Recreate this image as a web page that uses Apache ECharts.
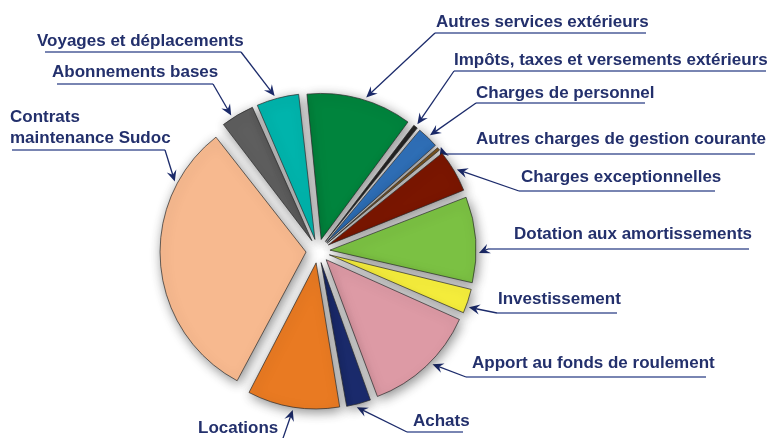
<!DOCTYPE html>
<html>
<head>
<meta charset="utf-8">
<script src="https://cdn.jsdelivr.net/npm/echarts@6/dist/echarts.min.js"></script>
<style>
html, body { margin: 0; padding: 0; background: #fff; }
#main { width: 768px; height: 438px; }
</style>
</head>
<body>
<div id="main"></div>
<script>
// postes de dépenses / ressources (part en %)
var categories = [
	'Autres services extérieurs',
	'Impôts, taxes et versements extérieurs',
	'Charges de personnel',
	'Autres charges de gestion courante',
	'Charges exceptionnelles',
	'Dotation aux amortissements',
	'Investissement',
	'Apport au fonds de roulement',
	'Achats',
	'Locations',
	'Contrats\nmaintenance Sudoc',
	'Abonnements bases',
	'Voyages et déplacements'
];
var values = [11.9, 0.7, 2.6, 0.55, 4.9, 9.7, 2.9, 12.8, 2.9, 10.4, 31.8, 3.9, 4.9];
var colors = ['#00843d', '#262626', '#2f6fb7', '#7a5420', '#7a1600', '#7bc143', '#f6ee3c',
	'#dd9aa5', '#1b2b6d', '#e97a22', '#f7b98f', '#5e5e5e', '#00b4ac'];

// mise en page des étiquettes (texte, soulignement, point d'ancrage de la flèche dans la part)
// side: 'l' = coude à gauche du soulignement, 'r' = coude à droite
var labelLayout = [
	{x: 436, y: 22, u1: 435, u2: 646, uy: 33, side: 'l', f: 0.55},
	{x: 454, y: 60, u1: 454, u2: 766, uy: 71, side: 'l', f: 0.5},
	{x: 476, y: 93, u1: 476, u2: 645, uy: 103, side: 'l', f: 0.5},
	{x: 476, y: 139, u1: 443, u2: 755, uy: 154, side: 'l', f: 0.5},
	{x: 521, y: 177, u1: 519, u2: 715, uy: 191, side: 'l', f: 0.5},
	{x: 514, y: 234, u1: 488, u2: 749, uy: 249, side: 'l', f: 0.65},
	{x: 498, y: 299, u1: 497, u2: 617, uy: 313, side: 'l', f: 0.7},
	{x: 472, y: 363, u1: 466, u2: 706, uy: 377, side: 'l', f: 0.45},
	{x: 413, y: 421, u1: 407, u2: 463, uy: 432, side: 'l', f: 0.6},
	{x: 198, y: 428, u1: 195, u2: 281, uy: 444, side: 'r', f: 0.5},
	{x: 10, y: 128, u1: 12, u2: 165, uy: 150, side: 'r', f: 0.79},
	{x: 52, y: 72, u1: 57, u2: 213, uy: 84, side: 'r', f: 0.35},
	{x: 37, y: 41, u1: 45, u2: 241, uy: 52, side: 'r', f: 0.45}
];

var cx = 318, cy = 251, R = 146, offset = 12, startAngle = 96, padAngle = 0.8;
var textColor = '#23306c', lineColor = '#1c2b6b', underColor = '#4d5c98';
var font = '600 17px "Liberation Sans Narrow", "Liberation Sans", sans-serif';

function pt(ox, oy, r, a) {
	var rad = a * Math.PI / 180;
	return [ox + r * Math.sin(rad), oy - r * Math.cos(rad)];
}

var total = values.reduce(function (s, v) { return s + v; }, 0);
var graphics = [];
var acc = 90 - startAngle;
values.forEach(function (v, i) {
	var span = v / total * 360;
	var a0 = acc, a1 = acc + span, mid = acc + span / 2;
	acc = a1;
	var L = labelLayout[i];
	var apex = pt(cx, cy, offset, mid);
	var tip = pt(apex[0], apex[1], R + 3, a0 + L.f * (a1 - a0));
	var elbow = [L.side === 'l' ? L.u1 : L.u2, L.uy];
	// soulignement
	graphics.push({
		type: 'line', silent: true,
		shape: {x1: L.u1, y1: L.uy, x2: L.u2, y2: L.uy},
		style: {stroke: underColor, lineWidth: 1.4}
	});
	// trait vers la part
	var dx = tip[0] - elbow[0], dy = tip[1] - elbow[1];
	var len = Math.sqrt(dx * dx + dy * dy);
	var ux = dx / len, uy = dy / len;
	graphics.push({
		type: 'line', silent: true,
		shape: {x1: elbow[0], y1: elbow[1], x2: tip[0] - ux * 6, y2: tip[1] - uy * 6},
		style: {stroke: lineColor, lineWidth: 1.3}
	});
	// pointe de flèche
	var nx = -uy, ny = ux;
	graphics.push({
		type: 'polygon', silent: true,
		shape: {points: [
			tip,
			[tip[0] - ux * 11 + nx * 5, tip[1] - uy * 11 + ny * 5],
			[tip[0] - ux * 7, tip[1] - uy * 7],
			[tip[0] - ux * 11 - nx * 5, tip[1] - uy * 11 - ny * 5]
		]},
		style: {fill: lineColor}
	});
	// texte
	graphics.push({
		type: 'text', silent: true,
		x: L.x, y: L.y,
		style: {
			text: categories[i], fill: textColor, font: font,
			align: 'left', verticalAlign: 'middle', lineHeight: 21
		}
	});
});

var myChart = echarts.init(document.getElementById('main'));
var option = {
	animation: false,
	backgroundColor: '#ffffff',
	color: colors,
	series: [
		{
			name: 'Répartition',
			type: 'pie',
			center: [cx, cy],
			radius: [0, R],
			startAngle: startAngle,
			padAngle: padAngle,
			clockwise: true,
			selectedMode: 'multiple',
			selectedOffset: offset,
			label: {show: false},
			labelLine: {show: false},
			emphasis: {disabled: true},
			itemStyle: {
				borderColor: '#2b2b2b',
				borderWidth: 0.7,
				shadowBlur: 12,
				shadowColor: 'rgba(0,0,0,0.45)',
				shadowOffsetX: 2,
				shadowOffsetY: 3
			},
			select: {
				itemStyle: {borderColor: '#2b2b2b', borderWidth: 0.7}
			},
			data: categories.map(function (c, i) {
				return {name: c, value: values[i], selected: true};
			})
		}
	],
	graphic: graphics
};
myChart.setOption(option, true);
</script>
</body>
</html>
